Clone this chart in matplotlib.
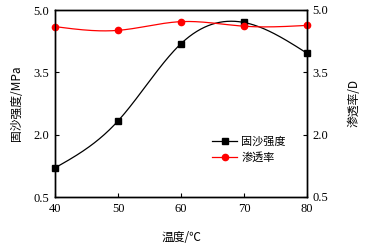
import numpy as np
import matplotlib
matplotlib.use("Agg")
import matplotlib.pyplot as plt

temps = [40, 50, 60, 70, 80]
strength = [1.2, 2.33, 4.19, 4.70, 3.96]
perm = [4.60, 4.51, 4.72, 4.61, 4.63]
yticks = [0.5, 2.0, 3.5, 5.0]

def spline(x, y, n=200):
    x = np.asarray(x, float); y = np.asarray(y, float)
    m = len(x); h = np.diff(x)
    A = np.zeros((m, m)); b = np.zeros(m)
    A[0, 0] = A[-1, -1] = 1
    for i in range(1, m - 1):
        A[i, i - 1] = h[i - 1]; A[i, i] = 2 * (h[i - 1] + h[i]); A[i, i + 1] = h[i]
        b[i] = 3 * ((y[i + 1] - y[i]) / h[i] - (y[i] - y[i - 1]) / h[i - 1])
    c = np.linalg.solve(A, b)
    xs = np.linspace(x[0], x[-1], n); ys = np.empty_like(xs)
    for k, xv in enumerate(xs):
        i = min(np.searchsorted(x, xv, side='right') - 1, m - 2)
        dx = xv - x[i]
        bi = (y[i + 1] - y[i]) / h[i] - h[i] * (2 * c[i] + c[i + 1]) / 3
        di = (c[i + 1] - c[i]) / (3 * h[i])
        ys[k] = y[i] + bi * dx + c[i] * dx ** 2 + di * dx ** 3
    return xs, ys

serif = ['Liberation Serif', 'Noto Sans CJK SC']
cjk = ['Noto Sans CJK SC', 'Liberation Serif']
plt.rcParams['font.family'] = serif

fig = plt.figure(figsize=(3.71, 2.44), dpi=100)
ax = fig.add_axes([55 / 371, 1 - 197 / 244, 252 / 371, 187 / 244])
ax2 = ax.twinx()

xs, ys = spline(temps, strength)
ax.plot(xs, ys, color='black', lw=0.9)
ax.plot(temps, strength, 's', color='black', ms=4.5, clip_on=False, zorder=5)
xs2, ys2 = spline(temps, perm)
ax.plot(xs2, ys2, color='red', lw=0.9)
ax.plot(temps, perm, 'o', color='red', ms=4.5, clip_on=False, zorder=5)

from matplotlib.lines import Line2D
handles = [Line2D([], [], color='black', lw=0.9, marker='s', ms=4.5),
           Line2D([], [], color='red', lw=0.9, marker='o', ms=4.5)]
ax.legend(handles, ['固沙强度', '渗透率'], loc='lower left', bbox_to_anchor=(0.585, 0.13),
          frameon=False, prop={'family': cjk, 'size': 8}, handlelength=2.2,
          handletextpad=0.4, labelspacing=0.45)

for a in (ax, ax2):
    a.set_ylim(0.5, 5.0)
    a.set_yticks(yticks)
    a.set_yticklabels([f'{v:.1f}' for v in yticks])
    for s in a.spines.values():
        s.set_linewidth(1.0)
ax.set_xlim(40, 80)
ax.set_xticks(temps)
ax.tick_params(direction='in', labelsize=9, length=3, width=0.8, pad=4)
ax2.tick_params(direction='in', labelsize=9, length=3, width=0.8, pad=4)

ax.set_xlabel('温度/℃', fontfamily=cjk, fontsize=8.5, labelpad=12)
ax.set_ylabel('固沙强度/MPa', fontfamily=cjk, fontsize=8.5, labelpad=8)
ax2.set_ylabel('渗透率/D', fontfamily=cjk, fontsize=8.5, rotation=90, labelpad=14)

fig.savefig('out.png', dpi=100)
